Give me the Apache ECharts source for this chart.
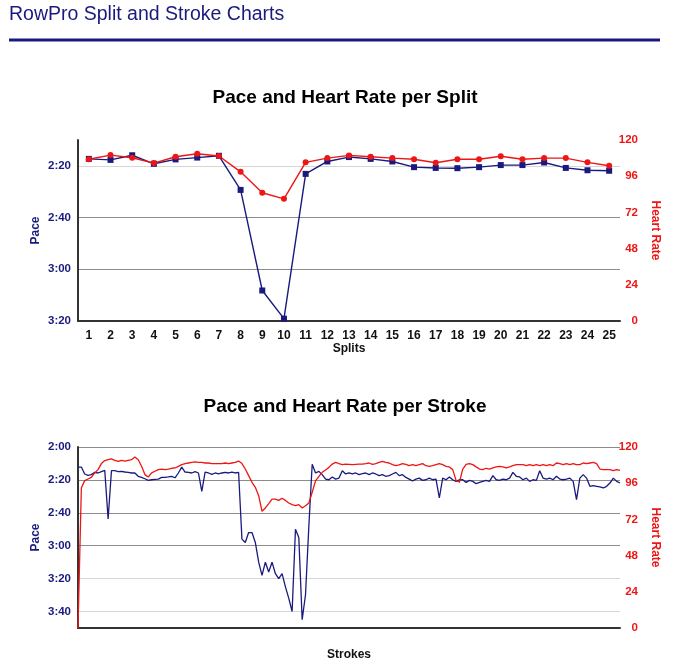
<!DOCTYPE html>
<html><head><meta charset="utf-8">
<script src="https://cdn.jsdelivr.net/npm/echarts@6/dist/echarts.min.js"></script>
<style>html,body{margin:0;padding:0;background:#fff;}#c{width:684px;height:669px;}</style>
</head><body><div id="c"></div>
<script>
// ---- data ----
const splits = ['1','2','3','4','5','6','7','8','9','10','11','12','13','14','15','16','17','18','19','20','21','22','23','24','25'];
// pace in seconds per 500m
const splitPace = [137.3,137.7,135.9,139.2,137.5,136.8,136.1,149.3,188.2,199.1,143.1,138.3,136.6,137.3,138.3,140.5,140.8,140.9,140.5,139.7,139.7,138.7,140.8,141.7,141.9];
const splitHR = [107.2,110.0,108.2,104.7,108.9,110.9,109.4,98.9,85.0,81.0,105.2,108.0,109.8,108.9,108.0,107.2,104.9,107.2,107.2,109.2,107.2,108.0,108.0,105.2,102.9];

const strokePace = [
132.2,132.2,136.4,137.2,136.8,135.4,135.8,135.0,134.2,163.8,134.4,134.4,135.0,134.8,135.2,135.4,135.8,135.8,137.8,138.5,139.3,140.3,139.9,139.7,139.5,138.5,138.5,138.2,137.8,138.7,135.8,132.2,135.2,
135.4,135.8,135.0,135.8,147.0,135.2,135.8,136.6,135.8,136.4,135.8,135.4,135.8,135.2,135.8,135.4,176,178,172,172,178,190,198,190,196,190,197,200,197,205,212,220,170,
175,225,209.8,168.2,130.5,135.8,134.8,136.8,139.5,139.9,138.2,139.5,138.9,134.4,136.4,135.8,136.4,135.8,136.8,136.2,135.8,136.8,135.8,136.4,137.4,136.8,137.8,137.4,136.4,135.4,137.4,136.8,138.5,
139.5,140.7,139.5,138.9,140.3,139.9,138.9,139.9,139.5,151.0,138.9,139.9,138.2,139.9,140.9,139.9,139.9,141.5,140.3,140.9,142.3,141.5,140.9,140.3,140.9,137.4,139.9,140.3,139.5,139.9,138.9,135.4,137.8,
138.2,139.9,138.9,140.9,139.9,140.3,134.4,138.9,139.5,138.9,139.9,137.8,139.5,139.9,139.5,138.9,140.9,152.0,138.9,136.8,138.9,143.9,143.5,143.9,144.3,144.9,143.9,141.9,138.9,140.9,141.9
];
const strokeHR = [
0,92.8,97.7,98.8,99.9,102.8,105.0,109.0,111.0,111.6,112.1,111.2,110.5,111.2,110.7,111.2,111.6,113.4,111.6,107.2,101.7,100.1,102.8,103.9,105.0,105.4,105.0,105.4,105.9,106.1,107.2,108.3,109.0,
109.4,109.8,110.1,109.8,109.8,109.4,109.4,109.0,109.0,109.0,109.0,109.4,109.0,109.4,109.8,110.7,109.0,105.4,101.0,96.6,93.3,87.7,77.4,79.6,82.4,85.5,85.5,84.6,86.0,84.6,82.9,81.8,81.1,
81.8,79.6,81.1,82.9,90.0,97.5,100.5,103.2,104.8,106.5,108.7,109.8,109.0,108.3,108.7,108.5,108.3,108.5,108.7,108.7,109.0,109.4,108.5,109.0,109.8,110.5,109.8,109.4,108.3,107.6,108.1,109.0,108.5,
107.6,108.3,107.6,108.3,109.0,107.6,107.2,107.6,108.3,109.0,108.3,107.2,106.8,105.0,97.9,96.6,105.4,108.5,109.0,108.3,106.8,105.4,105.0,105.9,105.4,106.1,106.8,107.2,106.8,106.1,106.8,107.6,108.3,
108.3,108.3,107.6,108.3,107.6,108.3,107.6,108.3,107.6,108.3,107.6,109.4,109.0,108.3,109.0,108.3,109.0,108.3,108.3,109.4,109.0,109.4,109.8,109.0,105.4,105.0,105.0,105.0,104.3,105.0,104.5
];
const strokes = strokePace.map((_, i) => String(i + 1));

// tick labels
const topPaceTicks = [140, 160, 180, 200];      // 2:20 .. 3:20
const bottomPaceTicks = [120, 140, 160, 180, 200, 220]; // 2:00 .. 3:40

// ---- styling ----
const NAVY = '#1a1a7e';
const RED = '#ee1515';
const FONT = '"Liberation Sans", Arial, Helvetica, sans-serif';
const fmt = v => Math.floor(v / 60) + ':' + String(Math.round(v % 60)).padStart(2, '0');

function splitColors(min, max, step, darkSet, lightSet) {
  const arr = [];
  for (let v = min; v <= max + 1e-9; v += step) {
    arr.push(darkSet.includes(v) ? '#8c8c8c' : (lightSet.includes(v) ? '#d6d6d6' : 'rgba(0,0,0,0)'));
  }
  return arr;
}

const chart = echarts.init(document.getElementById('c'), null, {renderer: 'canvas'});

const paceAxisCommon = {
  type: 'value', inverse: true, position: 'left',
  axisLine: {show: true, lineStyle: {color: '#333', width: 2}},
  axisTick: {show: false},
  name: 'Pace', nameLocation: 'middle', nameRotate: 90, nameGap: 36, nameMoveOverlap: false,
  nameTextStyle: {color: NAVY, fontWeight: 'bold', fontSize: 12, fontFamily: FONT},
};
const hrAxisCommon = {
  type: 'value', min: 0, max: 120, interval: 24, position: 'right',
  axisLine: {show: false}, axisTick: {show: false}, splitLine: {show: false},
  axisLabel: {color: RED, fontWeight: 'bold', fontSize: 11.5, fontFamily: FONT, align: 'right', margin: 18},
  name: 'Heart Rate', nameLocation: 'middle', nameRotate: -90, nameGap: 29, nameMoveOverlap: false,
  nameTextStyle: {color: RED, fontWeight: 'bold', fontSize: 12, fontFamily: FONT},
};

chart.setOption({
  animation: false,
  backgroundColor: '#fff',
  graphic: [
    {type: 'text', left: 9, top: 5, style: {text: 'RowPro Split and Stroke Charts', fill: NAVY, font: '19.5px ' + FONT}},
    {type: 'rect', shape: {x: 9, y: 38.5, width: 651, height: 3}, style: {fill: NAVY}},
    {type: 'text', x: 345, y: 98, style: {text: 'Pace and Heart Rate per Split', fill: '#000', font: 'bold 19px ' + FONT, align: 'center', verticalAlign: 'middle', textAlign: 'center', textVerticalAlign: 'middle'}},
    {type: 'text', x: 345, y: 407, style: {text: 'Pace and Heart Rate per Stroke', fill: '#000', font: 'bold 19px ' + FONT, align: 'center', verticalAlign: 'middle', textAlign: 'center', textVerticalAlign: 'middle'}}
  ],
  grid: [
    {left: 78, top: 140, width: 542, height: 181},
    {left: 78, top: 447, width: 542, height: 181}
  ],
  xAxis: [
    {type: 'category', gridIndex: 0, data: splits, boundaryGap: true,
     axisLine: {lineStyle: {color: '#333', width: 2}}, axisTick: {show: false},
     axisLabel: {color: '#111', fontWeight: 'bold', fontSize: 12, fontFamily: FONT, margin: 9},
     name: 'Splits', nameLocation: 'middle', nameGap: 22,
     nameTextStyle: {color: '#111', fontWeight: 'bold', fontSize: 12, fontFamily: FONT}},
    {type: 'category', gridIndex: 1, data: strokes, boundaryGap: false,
     axisLine: {lineStyle: {color: '#333', width: 2}}, axisTick: {show: false}, axisLabel: {show: false},
     name: 'Strokes', nameLocation: 'middle', nameGap: 21,
     nameTextStyle: {color: '#111', fontWeight: 'bold', fontSize: 12, fontFamily: FONT}}
  ],
  yAxis: [
    Object.assign({}, paceAxisCommon, {gridIndex: 0, min: 130, max: 200, interval: 10,
      axisLabel: {color: NAVY, fontWeight: 'bold', fontSize: 11.5, fontFamily: FONT, margin: 7,
        formatter: v => topPaceTicks.includes(v) ? fmt(v) : ''},
      splitLine: {show: true, lineStyle: {width: 1, color: splitColors(130, 200, 10, [160, 180], [140])}}}),
    Object.assign({}, hrAxisCommon, {gridIndex: 0}),
    Object.assign({}, paceAxisCommon, {gridIndex: 1, min: 120, max: 230, interval: 20,
      axisLabel: {color: NAVY, fontWeight: 'bold', fontSize: 11.5, fontFamily: FONT, margin: 7,
        formatter: v => bottomPaceTicks.includes(v) ? fmt(v) : ''},
      splitLine: {show: true, lineStyle: {width: 1, color: splitColors(120, 240, 20, [120, 140, 160, 180], [200, 220])}}}),
    Object.assign({}, hrAxisCommon, {gridIndex: 1})
  ],
  series: [
    {type: 'line', xAxisIndex: 0, yAxisIndex: 0, data: splitPace, symbol: 'rect', symbolSize: 6,
     itemStyle: {color: NAVY}, lineStyle: {color: NAVY, width: 1.4}},
    {type: 'line', xAxisIndex: 0, yAxisIndex: 1, data: splitHR, symbol: 'circle', symbolSize: 6,
     itemStyle: {color: RED}, lineStyle: {color: RED, width: 1.4}},
    {type: 'line', xAxisIndex: 1, yAxisIndex: 2, data: strokePace, showSymbol: false, symbol: 'none',
     lineStyle: {color: NAVY, width: 1.3}},
    {type: 'line', xAxisIndex: 1, yAxisIndex: 3, data: strokeHR, showSymbol: false, symbol: 'none',
     lineStyle: {color: RED, width: 1.3}}
  ]
});
</script>
</body></html>
